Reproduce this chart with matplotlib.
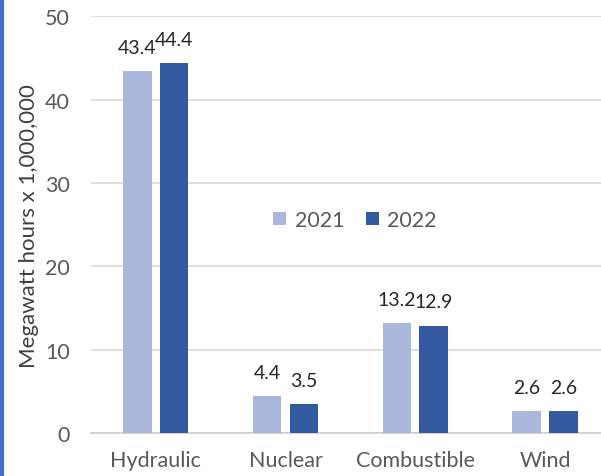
import matplotlib.pyplot as plt
from matplotlib.lines import Line2D
import numpy as np

categories = ['Hydraulic', 'Nuclear', 'Combustible', 'Wind']
values_2021 = [43.4, 4.4, 13.2, 2.6]
values_2022 = [44.4, 3.5, 12.9, 2.6]
labels = ['2021', '2022']

plt.rcParams['font.family'] = ['Lato', 'DejaVu Sans']

fig = plt.figure(figsize=(6.01, 4.77), dpi=100)
ax = fig.add_axes([0.151, 0.090, 0.849, 0.874])

x = np.arange(len(categories))
w = 0.22
b1 = ax.bar(x - 0.142, values_2021, w, color='#A9B7DC', label=labels[0], zorder=3)
b2 = ax.bar(x + 0.142, values_2022, w, color='#335AA1', label=labels[1], zorder=3)

for bars in (b1, b2):
    ax.bar_label(bars, fmt='%.1f', padding=11, fontsize=14, color='#262626')

ax.set_ylim(0, 50)
ax.set_xlim(-0.5, 3.43)
ax.set_yticks([0, 10, 20, 30, 40, 50])
ax.set_xticks(x)
ax.set_xticklabels(categories)
ax.tick_params(axis='both', length=0, labelsize=15.5, labelcolor='#595959')
ax.tick_params(axis='x', pad=12)
ax.tick_params(axis='y', pad=15)
ax.grid(axis='y', color='#D9D9D9', linewidth=1.2, zorder=0)
for s in ['top', 'right', 'left']:
    ax.spines[s].set_visible(False)
ax.spines['bottom'].set_color('#D0D0D0')
ax.spines['bottom'].set_linewidth(1.3)
ax.set_ylabel('Megawatt hours x 1,000,000', fontsize=16, color='#404040', labelpad=4)

ax.legend(loc='center', bbox_to_anchor=(0.518, 0.511), ncol=2, frameon=False,
          fontsize=15.5, labelcolor='#595959', handlelength=0.6, handleheight=0.6,
          columnspacing=1.0, handletextpad=0.4)

fig.add_artist(Line2D([0.003, 0.003], [0, 1], color='#4472C4', linewidth=3, transform=fig.transFigure))

fig.savefig('out.png', dpi=100)
